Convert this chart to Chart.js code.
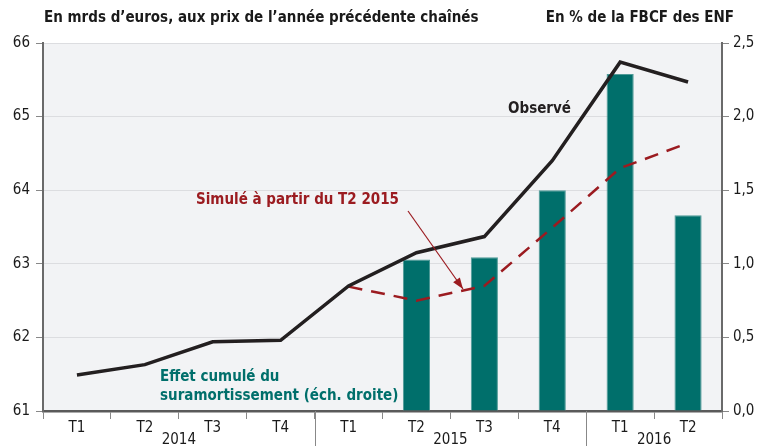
<!DOCTYPE html>
<html>
<head>
<meta charset="utf-8">
<script src="https://cdn.jsdelivr.net/npm/chart.js@4.4.0/dist/chart.umd.min.js"></script>
<style>
  html, body { margin: 0; padding: 0; background: #fff; }
  #wrap { width: 758px; height: 448px; position: relative; }
</style>
</head>
<body>
<div id="wrap"><canvas id="c" width="758" height="448"></canvas></div>
<script>
// données
const trimestres = ['T1', 'T2', 'T3', 'T4', 'T1', 'T2', 'T3', 'T4', 'T1', 'T2'];
const annees = ['2014', '2015', '2016'];
const anneeDebut = [0, 4, 8];
const anneeFin = [3, 7, 9];
const observe = [61.49, 61.63, 61.94, 61.96, 62.70, 63.15, 63.37, 64.40, 65.74, 65.47];
const simule = [null, null, null, null, 62.69, 62.50, 62.70, 63.49, 64.30, 64.64];
const suramort = [null, null, null, null, null, 1.03, 1.045, 1.50, 2.29, 1.33];
const ticksGauche = [61, 62, 63, 64, 65, 66];
const ticksDroite = [0, 0.5, 1, 1.5, 2, 2.5];

const FONT = '"Liberation Sans Narrow", "DejaVu Sans Condensed", sans-serif';
const ROUGE = '#9b1b20';
const VERT = '#006f6b';

const decor = {
  id: 'decor',
  beforeDraw(chart) {
    const { ctx, chartArea: a } = chart;
    ctx.save();
    ctx.fillStyle = '#f2f3f5';
    ctx.fillRect(a.left, a.top, a.right - a.left, a.bottom - a.top);
    ctx.restore();
  },
  afterDraw(chart) {
    const { ctx, chartArea: a, scales } = chart;
    const x = scales.x;
    const step = x.getPixelForValue(1) - x.getPixelForValue(0);
    ctx.save();
    // titres
    ctx.fillStyle = '#1a1a1a';
    ctx.font = 'bold 15px ' + FONT;
    ctx.textBaseline = 'middle';
    ctx.textAlign = 'left';
    ctx.fillText('En mrds d\u2019euros, aux prix de l\u2019ann\u00e9e pr\u00e9c\u00e9dente cha\u00een\u00e9s', 44, 18);
    ctx.textAlign = 'right';
    ctx.fillText('En % de la FBCF des ENF', 734, 18);

    // années et séparateurs
    ctx.strokeStyle = '#888';
    ctx.lineWidth = 1;
    for (let i = 1; i < anneeDebut.length; i++) {
      const xs = Math.round(x.getPixelForValue(anneeDebut[i]) - step / 2) + 0.5;
      ctx.beginPath();
      ctx.moveTo(xs, a.bottom);
      ctx.lineTo(xs, 446);
      ctx.stroke();
    }
    ctx.fillStyle = '#1a1a1a';
    ctx.font = '15px ' + FONT;
    ctx.textAlign = 'center';
    annees.forEach((an, i) => {
      const xc = (x.getPixelForValue(anneeDebut[i]) + x.getPixelForValue(anneeFin[i])) / 2;
      ctx.fillText(an, xc, 440);
    });

    // annotations
    ctx.font = 'bold 15px ' + FONT;
    ctx.fillStyle = '#231f20';
    ctx.textAlign = 'left';
    ctx.fillText('Observ\u00e9', 508, 109);
    ctx.fillStyle = ROUGE;
    ctx.fillText('Simul\u00e9 \u00e0 partir du T2 2015', 196, 200);
    ctx.fillStyle = VERT;
    ctx.fillText('Effet cumul\u00e9 du', 160, 377);
    ctx.fillText('suramortissement (\u00e9ch. droite)', 160, 396);

    // flèche
    const x0 = 408, y0 = 211, x1 = 463, y1 = 289;
    ctx.strokeStyle = ROUGE;
    ctx.fillStyle = ROUGE;
    ctx.lineWidth = 1.2;
    ctx.beginPath();
    ctx.moveTo(x0, y0);
    ctx.lineTo(x1, y1);
    ctx.stroke();
    const ang = Math.atan2(y1 - y0, x1 - x0);
    ctx.beginPath();
    ctx.moveTo(x1, y1);
    ctx.lineTo(x1 - 12 * Math.cos(ang - 0.35), y1 - 12 * Math.sin(ang - 0.35));
    ctx.lineTo(x1 - 12 * Math.cos(ang + 0.35), y1 - 12 * Math.sin(ang + 0.35));
    ctx.closePath();
    ctx.fill();
    ctx.restore();
  }
};

new Chart(document.getElementById('c'), {
  data: {
    labels: trimestres,
    datasets: [
      {
        type: 'line', label: 'Observ\u00e9', data: observe, yAxisID: 'y',
        borderColor: '#231f20', borderWidth: 3.5, pointRadius: 0, tension: 0, order: 1
      },
      {
        type: 'line', label: 'Simul\u00e9', data: simule, yAxisID: 'y',
        borderColor: ROUGE, borderWidth: 2.5, borderDash: [14, 9], pointRadius: 0, tension: 0, order: 2
      },
      {
        type: 'bar', label: 'Suramortissement', data: suramort, yAxisID: 'y1',
        backgroundColor: VERT, borderColor: '#4f9a97', borderWidth: 1,
        categoryPercentage: 1, barPercentage: 0.4, order: 3
      }
    ]
  },
  options: {
    responsive: false,
    animation: false,
    layout: { padding: { top: 43, left: 0, right: 0, bottom: 0 } },
    plugins: { legend: { display: false }, tooltip: { enabled: false } },
    scales: {
      x: {
        offset: true,
        grid: { offset: true, drawOnChartArea: false, tickLength: 8, color: '#888', tickWidth: 1 },
        border: { color: '#5a5a5a', width: 2.5 },
        ticks: { color: '#1a1a1a', font: { family: FONT, size: 15 }, padding: 0, maxRotation: 0 },
        afterFit(s) { s.height = 37; }
      },
      y: {
        position: 'left', min: 61, max: 66,
        afterBuildTicks(s) { s.ticks = ticksGauche.map(v => ({ value: v })); },
        grid: { color: '#dcdde0', tickColor: '#888', tickLength: 7 },
        border: { color: '#6a6a6a', width: 2 },
        ticks: { color: '#1a1a1a', font: { family: FONT, size: 15 }, padding: 6 },
        afterFit(s) { s.width = 43; }
      },
      y1: {
        position: 'right', min: 0, max: 2.5,
        afterBuildTicks(s) { s.ticks = ticksDroite.map(v => ({ value: v })); },
        grid: { drawOnChartArea: false, tickColor: '#888', tickLength: 7 },
        border: { color: '#6a6a6a', width: 2 },
        ticks: {
          color: '#1a1a1a', font: { family: FONT, size: 15 }, padding: 4,
          callback: v => v.toFixed(1).replace('.', ',')
        },
        afterFit(s) { s.width = 36; }
      }
    }
  },
  plugins: [decor]
});
</script>
</body>
</html>
